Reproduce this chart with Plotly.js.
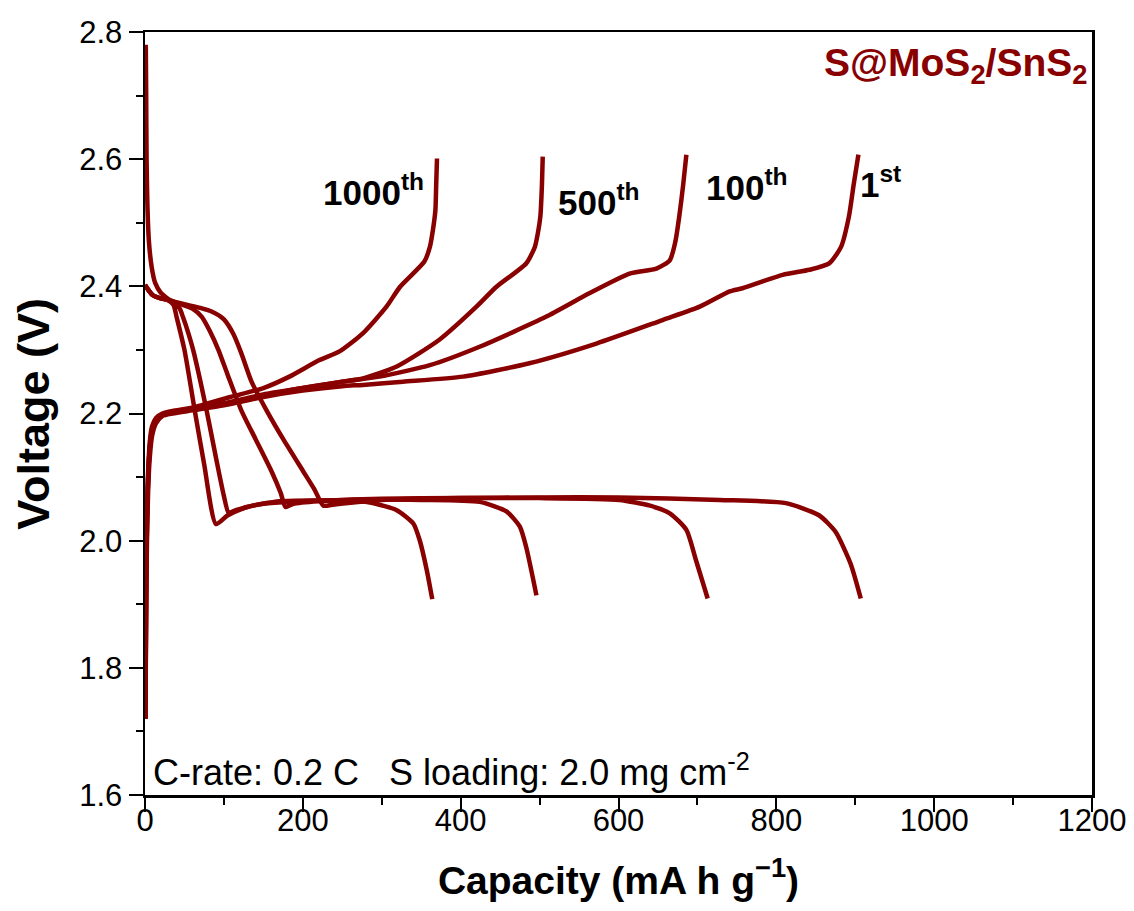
<!DOCTYPE html>
<html>
<head>
<meta charset="utf-8">
<script src="https://cdn.plot.ly/plotly-3.0.1.min.js"></script>
<style>
  html, body { margin: 0; padding: 0; background: #ffffff; }
  #chart { width: 1134px; height: 911px; }
</style>
</head>
<body>
<div id="chart"></div>
<script>
// Galvanostatic discharge/charge profiles of S@MoS2/SnS2 (mA h g^-1 vs V)

// ---- 1st cycle ----
const capDis1 = [1, 1.5, 2, 3, 5, 8.5, 13, 20, 32, 50, 70, 85, 100, 112, 122, 135, 154, 175, 200, 215, 226, 240, 300, 400, 500, 600, 728, 812, 854, 875, 894, 907];
const voltDis1 = [2.78, 2.70, 2.60, 2.53, 2.47, 2.43, 2.405, 2.39, 2.378, 2.372, 2.366, 2.360, 2.348, 2.325, 2.295, 2.25, 2.205, 2.16, 2.11, 2.08, 2.055, 2.057, 2.064, 2.067, 2.068, 2.068, 2.064, 2.059, 2.040, 2.014, 1.964, 1.909];
const capChg1 = [0.5, 1, 1.5, 2.5, 4, 6, 9, 14, 22, 35, 60, 100, 150, 200, 250, 276, 327, 403, 487, 572, 656, 703, 741, 757, 808, 842, 867, 882, 892, 898, 904];
const voltChg1 = [1.72, 1.80, 1.90, 2.00, 2.08, 2.13, 2.165, 2.185, 2.196, 2.200, 2.205, 2.213, 2.226, 2.236, 2.243, 2.245, 2.250, 2.258, 2.279, 2.310, 2.347, 2.368, 2.392, 2.397, 2.418, 2.426, 2.436, 2.462, 2.51, 2.56, 2.607];

// ---- 100th cycle ----
const capDis100 = [0, 5, 10, 20, 28, 45, 60, 72, 82, 93, 105, 122, 140, 160, 172, 178, 188, 220, 300, 400, 500, 601, 640, 665, 686, 698, 713];
const voltDis100 = [2.402, 2.393, 2.386, 2.381, 2.379, 2.372, 2.365, 2.352, 2.33, 2.30, 2.26, 2.205, 2.16, 2.11, 2.075, 2.053, 2.058, 2.062, 2.066, 2.067, 2.067, 2.064, 2.055, 2.043, 2.017, 1.970, 1.909];
const capChg100 = [0.5, 1, 1.5, 2.5, 4, 6, 9, 14, 22, 35, 60, 100, 150, 200, 250, 297, 361, 424, 508, 563, 614, 648, 665, 672, 677, 682, 686];
const voltChg100 = [1.72, 1.82, 1.93, 2.03, 2.10, 2.145, 2.175, 2.19, 2.198, 2.202, 2.207, 2.215, 2.228, 2.240, 2.250, 2.258, 2.276, 2.305, 2.352, 2.389, 2.420, 2.428, 2.441, 2.47, 2.51, 2.56, 2.607];

// ---- 500th cycle ----
const capDis500 = [0, 5, 10, 20, 28, 38, 44, 48, 54, 61, 78, 90, 100, 106, 115, 150, 250, 350, 424, 458, 475, 483, 496];
const voltDis500 = [2.402, 2.393, 2.386, 2.381, 2.379, 2.372, 2.365, 2.352, 2.33, 2.30, 2.205, 2.13, 2.07, 2.044, 2.048, 2.058, 2.064, 2.064, 2.061, 2.046, 2.022, 1.990, 1.914];
const capChg500 = [0.5, 1, 1.5, 2.5, 4, 6, 9, 14, 22, 35, 60, 100, 150, 200, 250, 276, 319, 373, 420, 445, 483, 494, 498, 501, 503, 504];
const voltChg500 = [1.72, 1.82, 1.93, 2.03, 2.10, 2.145, 2.175, 2.19, 2.198, 2.202, 2.207, 2.216, 2.230, 2.240, 2.250, 2.255, 2.274, 2.316, 2.368, 2.399, 2.436, 2.462, 2.485, 2.51, 2.56, 2.604];

// ---- 1000th cycle ----
const capDis1000 = [0, 5, 10, 20, 28, 36, 40, 50, 63, 75, 90, 105, 129, 171, 250, 285, 319, 340, 348, 357, 364];
const voltDis1000 = [2.402, 2.393, 2.386, 2.381, 2.379, 2.371, 2.352, 2.30, 2.205, 2.12, 2.026, 2.040, 2.053, 2.062, 2.063, 2.060, 2.048, 2.027, 2.001, 1.954, 1.908];
const capChg1000 = [0.5, 1, 1.5, 2.5, 4, 6, 9, 14, 22, 35, 60, 108, 150, 183, 221, 247, 276, 306, 323, 354, 361, 365, 368, 369, 370];
const voltChg1000 = [1.72, 1.84, 1.95, 2.05, 2.11, 2.155, 2.18, 2.193, 2.200, 2.204, 2.209, 2.226, 2.240, 2.258, 2.284, 2.298, 2.326, 2.368, 2.399, 2.439, 2.462, 2.49, 2.52, 2.56, 2.601];

// Axis ticks
const xTicks = [0, 200, 400, 600, 800, 1000, 1200];
const yTicks = [1.6, 1.8, 2.0, 2.2, 2.4, 2.6, 2.8];

// Cycle labels
const cycleLabels = ['1000<sup>th</sup>', '500<sup>th</sup>', '100<sup>th</sup>', '1<sup>st</sup>'];
const cycleLabelX = [290, 575, 763, 932];
const cycleLabelY = [2.551, 2.536, 2.559, 2.564];

const LINE = '#880000';
const FONT = 'Liberation Sans, Arial, Helvetica, sans-serif';

function curve(x, y) {
  return {
    x: x, y: y, type: 'scatter', mode: 'lines',
    line: { color: LINE, width: 4.5, shape: 'spline', smoothing: 0.6 },
    hoverinfo: 'skip', showlegend: false
  };
}

const traces = [
  curve(capDis1, voltDis1), curve(capChg1, voltChg1),
  curve(capDis100, voltDis100), curve(capChg100, voltChg100),
  curve(capDis500, voltDis500), curve(capChg500, voltChg500),
  curve(capDis1000, voltDis1000), curve(capChg1000, voltChg1000)
];

const annotations = cycleLabels.map((t, i) => ({
  x: cycleLabelX[i], y: cycleLabelY[i], xref: 'x', yref: 'y',
  text: '<b>' + t + '</b>', showarrow: false,
  font: { family: FONT, size: 35, color: '#000000' }
}));

annotations.push({
  x: 0.997, y: 2.748, xref: 'paper', yref: 'y', xanchor: 'right', yanchor: 'middle',
  text: '<b>S@MoS<sub>2</sub>/SnS<sub>2</sub></b>', showarrow: false,
  font: { family: FONT, size: 39, color: LINE }
});

annotations.push({
  x: 0.006, y: 1.64, xref: 'paper', yref: 'y', xanchor: 'left', yanchor: 'middle',
  text: 'C-rate: 0.2 C   S loading: 2.0 mg cm<sup>-2</sup>', showarrow: false,
  font: { family: FONT, size: 36, color: '#000000' }
});

// Vertical axis title, placed to the left of the tick labels
annotations.push({
  x: -0.118, y: 0.5, xref: 'paper', yref: 'paper', xanchor: 'center', yanchor: 'middle',
  text: '<b>Voltage (V)</b>', textangle: -90, showarrow: false,
  font: { family: FONT, size: 45, color: '#000000' }
});

const axisCommon = {
  showgrid: false, zeroline: false,
  showline: true, linecolor: '#000000', linewidth: 2.5, mirror: true,
  ticks: 'outside', ticklen: 14, tickwidth: 2, tickcolor: '#000000',
  tickfont: { family: FONT, size: 31, color: '#000000' }
};

const layout = {
  width: 1134, height: 911,
  margin: { l: 145, r: 42, t: 32, b: 116 },
  paper_bgcolor: '#ffffff', plot_bgcolor: '#ffffff',
  xaxis: Object.assign({}, axisCommon, {
    range: [0, 1200], tickvals: xTicks, ticktext: xTicks.map(String),
    ticklabelstandoff: -18,
    minor: { dtick: 100, ticks: 'outside', ticklen: 7, tickwidth: 2, tickcolor: '#000000', showgrid: false },
    title: { text: '<b>Capacity (mA h g<sup>\u22121</sup>)</b>', font: { family: FONT, size: 39, color: '#000000' }, standoff: 30 }
  }),
  yaxis: Object.assign({}, axisCommon, {
    range: [1.6, 2.8], tickvals: yTicks, ticktext: yTicks.map(v => v.toFixed(1)),
    minor: { dtick: 0.1, ticks: 'outside', ticklen: 7, tickwidth: 2, tickcolor: '#000000', showgrid: false }
  }),
  annotations: annotations
};

Plotly.newPlot('chart', traces, layout, { staticPlot: true, displayModeBar: false });
</script>
</body>
</html>
